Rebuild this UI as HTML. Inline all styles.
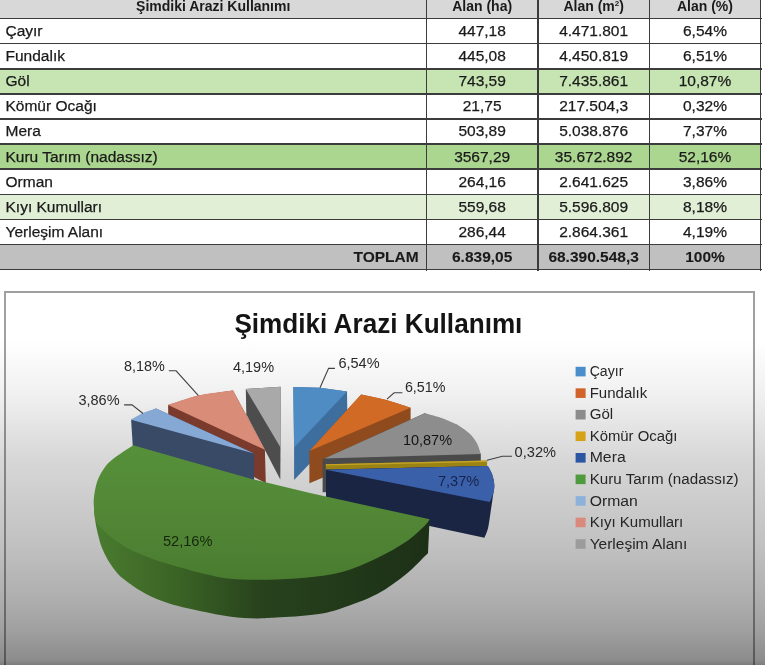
<!DOCTYPE html>
<html><head><meta charset="utf-8"><style>
html,body{margin:0;padding:0;}
body{width:765px;height:665px;position:relative;overflow:hidden;font-family:"Liberation Sans",sans-serif;
background:#fff;}
.ov{position:absolute;left:0;top:0;width:765px;height:665px;mix-blend-mode:multiply;pointer-events:none;
background:linear-gradient(to bottom,#ffffff 0px,#ffffff 340px,#f0f0f0 395px,#d7d7d7 460px,#c1c1c1 545px,#aeaeae 600px,#a0a0a0 630px,#8c8c8c 660px,#7c7c7c 665px);}
.a{position:absolute;}
.t{position:absolute;white-space:nowrap;font-size:15.5px;color:#1a1a1a;-webkit-text-stroke:0.25px #1a1a1a;line-height:25px;height:25px;}
.hl{position:absolute;left:0;width:762px;height:1.6px;background:#3c3c3c;}
.vl{position:absolute;width:1.6px;background:#3c3c3c;top:0;height:270.5px;}
</style></head><body>

<div class="a" style="left:0;top:0;width:761px;height:18.5px;background:#d8d8d8"></div>
<div class="a" style="left:0;top:18.50px;width:761px;height:25.12px;background:#ffffff"></div>
<div class="a" style="left:0;top:43.62px;width:761px;height:25.12px;background:#ffffff"></div>
<div class="a" style="left:0;top:68.74px;width:761px;height:25.12px;background:#c7e5b3"></div>
<div class="a" style="left:0;top:93.86px;width:761px;height:25.12px;background:#ffffff"></div>
<div class="a" style="left:0;top:118.98px;width:761px;height:25.12px;background:#ffffff"></div>
<div class="a" style="left:0;top:144.10px;width:761px;height:25.12px;background:#abd68f"></div>
<div class="a" style="left:0;top:169.22px;width:761px;height:25.12px;background:#ffffff"></div>
<div class="a" style="left:0;top:194.34px;width:761px;height:25.12px;background:#e1efd6"></div>
<div class="a" style="left:0;top:219.46px;width:761px;height:25.12px;background:#ffffff"></div>
<div class="a" style="left:0;top:244.58px;width:761px;height:25.12px;background:#c0c0c0"></div>
<div class="t" style="left:0.0px;width:426.4px;text-align:center;top:-6.3px;font-weight:bold;font-size:14px;-webkit-text-stroke:0;">Şimdiki Arazi Kullanımı</div>
<div class="t" style="left:426.4px;width:111.5px;text-align:center;top:-6.3px;font-weight:bold;font-size:14px;-webkit-text-stroke:0;">Alan (ha)</div>
<div class="t" style="left:537.9px;width:111.5px;text-align:center;top:-6.3px;font-weight:bold;font-size:14px;-webkit-text-stroke:0;">Alan (m<sup style="font-size:8px;vertical-align:5px;line-height:0">2</sup>)</div>
<div class="t" style="left:649.4px;width:111.2px;text-align:center;top:-6.3px;font-weight:bold;font-size:14px;-webkit-text-stroke:0;">Alan (%)</div>
<div class="t" style="left:5.5px;top:17.90px;">Çayır</div>
<div class="t" style="left:426.4px;width:111.5px;text-align:center;top:17.90px;">447,18</div>
<div class="t" style="left:537.9px;width:111.5px;text-align:center;top:17.90px;">4.471.801</div>
<div class="t" style="left:649.4px;width:111.2px;text-align:center;top:17.90px;">6,54%</div>
<div class="t" style="left:5.5px;top:43.02px;">Fundalık</div>
<div class="t" style="left:426.4px;width:111.5px;text-align:center;top:43.02px;">445,08</div>
<div class="t" style="left:537.9px;width:111.5px;text-align:center;top:43.02px;">4.450.819</div>
<div class="t" style="left:649.4px;width:111.2px;text-align:center;top:43.02px;">6,51%</div>
<div class="t" style="left:5.5px;top:68.14px;">Göl</div>
<div class="t" style="left:426.4px;width:111.5px;text-align:center;top:68.14px;">743,59</div>
<div class="t" style="left:537.9px;width:111.5px;text-align:center;top:68.14px;">7.435.861</div>
<div class="t" style="left:649.4px;width:111.2px;text-align:center;top:68.14px;">10,87%</div>
<div class="t" style="left:5.5px;top:93.26px;">Kömür Ocağı</div>
<div class="t" style="left:426.4px;width:111.5px;text-align:center;top:93.26px;">21,75</div>
<div class="t" style="left:537.9px;width:111.5px;text-align:center;top:93.26px;">217.504,3</div>
<div class="t" style="left:649.4px;width:111.2px;text-align:center;top:93.26px;">0,32%</div>
<div class="t" style="left:5.5px;top:118.38px;">Mera</div>
<div class="t" style="left:426.4px;width:111.5px;text-align:center;top:118.38px;">503,89</div>
<div class="t" style="left:537.9px;width:111.5px;text-align:center;top:118.38px;">5.038.876</div>
<div class="t" style="left:649.4px;width:111.2px;text-align:center;top:118.38px;">7,37%</div>
<div class="t" style="left:5.5px;top:143.50px;">Kuru Tarım (nadassız)</div>
<div class="t" style="left:426.4px;width:111.5px;text-align:center;top:143.50px;">3567,29</div>
<div class="t" style="left:537.9px;width:111.5px;text-align:center;top:143.50px;">35.672.892</div>
<div class="t" style="left:649.4px;width:111.2px;text-align:center;top:143.50px;">52,16%</div>
<div class="t" style="left:5.5px;top:168.62px;">Orman</div>
<div class="t" style="left:426.4px;width:111.5px;text-align:center;top:168.62px;">264,16</div>
<div class="t" style="left:537.9px;width:111.5px;text-align:center;top:168.62px;">2.641.625</div>
<div class="t" style="left:649.4px;width:111.2px;text-align:center;top:168.62px;">3,86%</div>
<div class="t" style="left:5.5px;top:193.74px;">Kıyı Kumulları</div>
<div class="t" style="left:426.4px;width:111.5px;text-align:center;top:193.74px;">559,68</div>
<div class="t" style="left:537.9px;width:111.5px;text-align:center;top:193.74px;">5.596.809</div>
<div class="t" style="left:649.4px;width:111.2px;text-align:center;top:193.74px;">8,18%</div>
<div class="t" style="left:5.5px;top:218.86px;">Yerleşim Alanı</div>
<div class="t" style="left:426.4px;width:111.5px;text-align:center;top:218.86px;">286,44</div>
<div class="t" style="left:537.9px;width:111.5px;text-align:center;top:218.86px;">2.864.361</div>
<div class="t" style="left:649.4px;width:111.2px;text-align:center;top:218.86px;">4,19%</div>
<div class="t" style="left:0;width:418.7px;text-align:right;top:243.98px;font-weight:bold;-webkit-text-stroke:0.1px">TOPLAM</div>
<div class="t" style="left:426.4px;width:111.5px;text-align:center;top:243.98px;font-weight:bold;-webkit-text-stroke:0.1px">6.839,05</div>
<div class="t" style="left:537.9px;width:111.5px;text-align:center;top:243.98px;font-weight:bold;-webkit-text-stroke:0.1px">68.390.548,3</div>
<div class="t" style="left:649.4px;width:111.2px;text-align:center;top:243.98px;font-weight:bold;-webkit-text-stroke:0.1px">100%</div>
<div class="hl" style="top:17.70px"></div>
<div class="hl" style="top:42.82px"></div>
<div class="hl" style="top:67.94px"></div>
<div class="hl" style="top:93.06px"></div>
<div class="hl" style="top:118.18px"></div>
<div class="hl" style="top:143.30px"></div>
<div class="hl" style="top:168.42px"></div>
<div class="hl" style="top:193.54px"></div>
<div class="hl" style="top:218.66px"></div>
<div class="hl" style="top:243.78px"></div>
<div class="hl" style="top:268.90px"></div>
<div class="vl" style="left:425.60px"></div>
<div class="vl" style="left:537.10px"></div>
<div class="vl" style="left:648.60px"></div>
<div class="vl" style="left:759.80px"></div>
<div class="a" style="left:3.8px;top:291px;width:751.2px;height:400px;border:2px solid #a0a0a0;box-sizing:border-box"></div>
<div class="ov"></div>
<svg class="a" style="left:0;top:0" width="765" height="665" viewBox="0 0 765 665">
<defs>
<linearGradient id="gside" x1="94" y1="0" x2="430" y2="0" gradientUnits="userSpaceOnUse">
<stop offset="0" stop-color="#4a7b2f"/><stop offset="0.25" stop-color="#3a6325"/><stop offset="0.5" stop-color="#28421d"/><stop offset="1" stop-color="#1c3016"/>
</linearGradient>
<linearGradient id="gtop" x1="0" y1="445" x2="0" y2="580" gradientUnits="userSpaceOnUse">
<stop offset="0" stop-color="#56903a"/><stop offset="0.6" stop-color="#518535"/><stop offset="1" stop-color="#4a7c30"/>
</linearGradient>
</defs>
<polygon points="245.8,389.0 280.6,386.8 280.5,447.6 280.3,479.6 246.3,414.3" fill="#4d4d4d"/>
<polygon points="245.8,389.0 280.6,386.8 280.5,447.6" fill="#a9a9a9"/>
<polygon points="293.3,387.0 320.0,387.7 347.0,391.5 347.5,424.0 294.1,480.1 294.1,447.6" fill="#3d6e9e"/>
<polygon points="293.3,387.0 320.0,387.7 347.0,391.5 294.1,447.6" fill="#4f8cc4"/>
<polygon points="168.1,405.1 198.2,395.5 233.0,390.5 264.9,449.8 265.8,483.2 168.5,432.0" fill="#7a3a2c"/>
<path d="M168.1,405.1 C173.1,403.5 187.4,397.9 198.2,395.5 C209.0,393.1 227.2,391.3 233.0,390.5 L264.9,449.8 Z" fill="#d98d78"/>
<polygon points="309.4,450.9 361.2,394.4 386.3,399.9 410.6,407.7 410.6,441.0 309.4,483.3" fill="#8f4a1d"/>
<path d="M309.4,450.9 L361.2,394.4 C365.4,395.3 378.1,397.7 386.3,399.9 C394.5,402.1 406.6,406.4 410.6,407.7 Z" fill="#d06a24"/>
<polygon points="131.1,419.7 156.0,408.5 254.1,453.4 254.1,481.0 132.8,447.0" fill="#394a66"/>
<path d="M131.1,419.7 C132.9,418.7 137.8,415.4 142.0,413.5 C146.2,411.6 153.7,409.3 156.0,408.5 L254.1,453.4 Z" fill="#86a8d4"/>
<polygon points="324.4,458.5 424.7,413.2 457.6,425.0 480.8,454.1 480.8,490.0 322.6,492.3 322.6,458.5" fill="#4a4a4a"/>
<path d="M324.4,458.5 L424.7,413.2 C427.2,413.9 434.5,415.5 440.0,417.5 C445.5,419.5 452.6,422.2 457.6,425.0 C462.6,427.8 466.8,430.9 470.0,434.0 C473.2,437.1 475.2,440.1 477.0,443.5 C478.8,446.9 480.2,452.3 480.8,454.1 Z" fill="#8d8d8d"/>
<polygon points="325.8,464.2 487.1,460.5 487.1,466.0 325.8,469.5" fill="#9a8314"/>
<polygon points="325.8,464.2 487.1,460.5 487.1,462.0 325.8,465.5" fill="#c4a423"/>
<path d="M326,469.8 L487.8,465.9 C488.5,467.2 490.9,470.8 492.0,474.0 C493.1,477.2 494.2,481.2 494.3,485.0 C494.4,488.8 493.4,492.5 492.8,497.0 C492.2,501.5 491.4,506.7 490.6,511.9 C489.8,517.1 489.0,523.9 488.0,528.2 C487.0,532.5 485.0,536.1 484.4,537.7 L429.6,526 L326,506 Z" fill="#1a2544"/>
<path d="M326,469.8 L487.8,465.9 C488.5,467.2 490.9,470.8 492.0,474.0 C493.1,477.2 494.1,481.7 494.3,485.0 C494.5,488.3 493.8,491.2 493.0,494.0 C492.2,496.8 490.3,500.7 489.8,502.0 Z" fill="#3b60aa"/>
<path d="M94.0,497.0 C94.0,498.8 93.8,503.5 94.0,507.6 C94.2,511.7 94.7,517.0 95.4,521.7 C96.1,526.5 97.3,531.7 98.4,536.1 C99.5,540.5 100.4,544.1 102.0,548.1 C103.6,552.1 105.6,556.2 108.0,560.2 C110.4,564.2 113.7,568.9 116.5,572.2 C119.3,575.5 120.3,576.5 124.9,580.0 C129.5,583.5 136.7,588.9 144.2,592.9 C151.7,596.9 159.9,600.5 170.0,603.7 C180.1,606.9 194.8,609.8 205.0,612.0 C215.2,614.2 222.5,615.6 231.0,616.7 C239.5,617.8 248.5,618.2 256.0,618.4 C263.5,618.5 266.4,618.2 276.2,617.6 C286.0,617.0 304.2,616.0 315.0,614.5 C325.8,613.0 330.6,611.8 341.0,608.4 C351.4,605.0 366.4,599.7 377.2,594.0 C388.0,588.3 398.0,580.5 406.0,574.2 C414.0,567.9 421.3,559.5 425.0,556.0 C428.7,552.5 427.5,553.5 428.0,553.0 L429.6,519.3 L370.0,507.2 L310.0,494.1 L250.0,479.5 L190.0,462.5 L133.1,446.2 Z" fill="url(#gside)"/>
<path d="M133.1,445.2 L190.0,461.5 L250.0,478.5 L310.0,493.1 L370.0,506.2 L429.6,519.3 C428.8,520.3 428.9,521.7 425.0,525.4 C421.1,529.1 414.0,536.3 406.0,541.7 C398.0,547.1 388.0,552.8 377.2,557.9 C366.4,563.0 353.0,569.0 341.0,572.3 C329.0,575.6 317.3,576.6 305.0,577.8 C292.7,579.0 279.5,579.5 267.2,579.7 C254.9,579.9 241.4,579.8 231.0,578.8 C220.6,577.8 215.2,576.4 205.0,574.0 C194.8,571.6 179.1,567.2 170.0,564.5 C160.9,561.8 156.9,560.5 150.2,558.0 C143.5,555.5 135.9,552.5 130.0,549.5 C124.1,546.5 119.7,543.4 115.0,540.0 C110.3,536.6 105.3,532.5 102.0,529.0 C98.7,525.5 96.7,522.8 95.4,519.2 C94.1,515.6 94.2,511.3 94.0,507.6 C93.8,503.9 93.5,501.3 94.0,497.0 C94.5,492.7 95.5,486.5 97.0,482.0 C98.5,477.5 100.5,473.7 103.0,470.0 C105.5,466.3 107.1,463.8 112.1,459.7 C117.1,455.6 129.6,447.6 133.1,445.2 Z" fill="url(#gtop)"/>
<!-- leader lines -->
<g fill="none" stroke="#404040" stroke-width="1.1">
<polyline points="168.8,370.8 176.1,370.8 198.2,395.3"/>
<polyline points="124.1,404.9 132,404.9 143,413.5"/>
<polyline points="334.9,368.4 328.6,368.4 320,387.7"/>
<polyline points="402.4,392.8 394.1,392.8 387,399.1"/>
<polyline points="512,456.3 502.4,456.3 487,460.3"/>
</g>
<!-- labels -->
<g font-family="Liberation Sans" font-size="14.5" fill="#2a2a2a">
<text x="124.1" y="370.6" textLength="40.8" lengthAdjust="spacingAndGlyphs">8,18%</text>
<text x="78.4" y="405.2" textLength="41.2" lengthAdjust="spacingAndGlyphs">3,86%</text>
<text x="232.9" y="371.5" textLength="41.2" lengthAdjust="spacingAndGlyphs">4,19%</text>
<text x="338.4" y="368.3" textLength="41.2" lengthAdjust="spacingAndGlyphs">6,54%</text>
<text x="404.9" y="392.1" textLength="40.6" lengthAdjust="spacingAndGlyphs">6,51%</text>
<text x="402.9" y="445.3" textLength="49.2" lengthAdjust="spacingAndGlyphs" fill="#141414">10,87%</text>
<text x="514.6" y="456.8" textLength="41.4" lengthAdjust="spacingAndGlyphs">0,32%</text>
<text x="437.9" y="486" textLength="41.4" lengthAdjust="spacingAndGlyphs" fill="#16234a">7,37%</text>
<text x="162.9" y="546.4" textLength="49.6" lengthAdjust="spacingAndGlyphs" fill="#13290b">52,16%</text>
</g>
<!-- title -->
<text x="234.4" y="333.2" font-family="Liberation Sans" font-weight="bold" font-size="27" fill="#141414" textLength="288" lengthAdjust="spacingAndGlyphs">Şimdiki Arazi Kullanımı</text>
<!-- legend -->
<g font-family="Liberation Sans" font-size="14" fill="#262626">
<rect x="575.6" y="366.8" width="10" height="9.6" fill="#4a8fc9"/>
<rect x="575.6" y="388.35" width="10" height="9.6" fill="#d0622a"/>
<rect x="575.6" y="409.9" width="10" height="9.6" fill="#8c8c8c"/>
<rect x="575.6" y="431.45" width="10" height="9.6" fill="#d6a318"/>
<rect x="575.6" y="453" width="10" height="9.6" fill="#2c55a2"/>
<rect x="575.6" y="474.55" width="10" height="9.6" fill="#4e9a3c"/>
<rect x="575.6" y="496.1" width="10" height="9.6" fill="#8eb1dc"/>
<rect x="575.6" y="517.65" width="10" height="9.6" fill="#d98a7c"/>
<rect x="575.6" y="539.2" width="10" height="9.6" fill="#9c9c9c"/>
<text x="589.7" y="376.20" textLength="33.7" lengthAdjust="spacingAndGlyphs">Çayır</text>
<text x="589.7" y="397.75" textLength="57.6" lengthAdjust="spacingAndGlyphs">Fundalık</text>
<text x="589.7" y="419.30" textLength="23.5" lengthAdjust="spacingAndGlyphs">Göl</text>
<text x="589.7" y="440.85" textLength="87.8" lengthAdjust="spacingAndGlyphs">Kömür Ocağı</text>
<text x="589.7" y="462.40" textLength="36" lengthAdjust="spacingAndGlyphs">Mera</text>
<text x="589.7" y="483.95" textLength="148.9" lengthAdjust="spacingAndGlyphs">Kuru Tarım (nadassız)</text>
<text x="589.7" y="505.50" textLength="48.1" lengthAdjust="spacingAndGlyphs">Orman</text>
<text x="589.7" y="527.05" textLength="93.6" lengthAdjust="spacingAndGlyphs">Kıyı Kumulları</text>
<text x="589.7" y="548.60" textLength="97.6" lengthAdjust="spacingAndGlyphs">Yerleşim Alanı</text>
</g>
</svg>

</body></html>
